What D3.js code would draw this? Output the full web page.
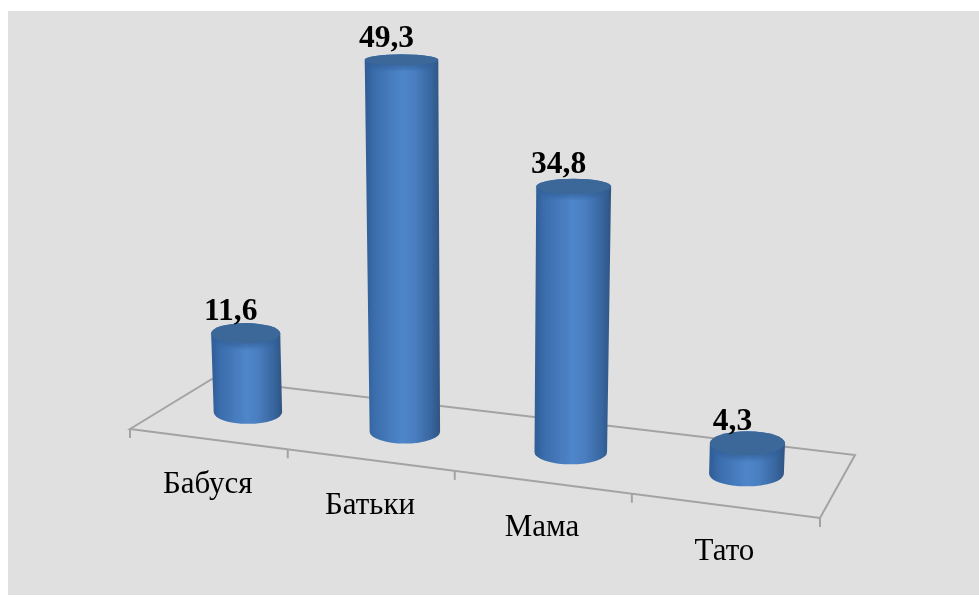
<!DOCTYPE html>
<html>
<head>
<meta charset="utf-8">
<script src="https://cdn.jsdelivr.net/npm/d3@7"></script>
<style>
  html, body { margin: 0; background: #fff; }
  text { font-family: "Liberation Serif", serif; fill: #000; }
</style>
</head>
<body>
<div id="app"></div>
<script>
const categories = ["Бабуся", "Батьки", "Мама", "Тато"];
const values = [11.6, 49.3, 34.8, 4.3];
const valueLabels = ["11,6", "49,3", "34,8", "4,3"];

const width = 979;
const height = 609;

// floor of the 3d plot as seen on screen
const frontLeft = [130, 429];
const frontRight = [820, 518];
const backRight = [855, 455];
const backLeft = [212, 379];

// unit square -> floor quad
const project = (() => {
  const [x0, y0] = frontLeft, [x1, y1] = frontRight, [x2, y2] = backRight, [x3, y3] = backLeft;
  const sx = x0 - x1 + x2 - x3, sy = y0 - y1 + y2 - y3;
  const dx1 = x1 - x2, dx2 = x3 - x2, dy1 = y1 - y2, dy2 = y3 - y2;
  const den = dx1 * dy2 - dx2 * dy1;
  const g = (sx * dy2 - dx2 * sy) / den;
  const h = (dx1 * sy - sx * dy1) / den;
  return (u, v) => {
    const w = g * u + h * v + 1;
    return [
      ((x1 - x0 + g * x1) * u + (x3 - x0 + h * x3) * v + x0) / w,
      ((y1 - y0 + g * y1) * u + (y3 - y0 + h * y3) * v + y0) / w
    ];
  };
})();

const band = d3.scaleBand().domain(categories).range([0, 1]);

// pixels of height per unit of bar width
const heightScale = d3.scalePow().exponent(1.05).domain([0, 49.3]).range([0, 5.28]);
const baseRadius = d3.scaleLinear().domain([247, 746]).range([34.2, 37.4]);
const capRy = d3.scaleLinear().domain([60, 442]).range([5.6, 12]);

// vertical lines spread out going up
const vanishX = 480;
const spread = 1.2e-4;

const svg = d3.select("#app").append("svg")
  .attr("width", width)
  .attr("height", height)
  .style("display", "block");

const defs = svg.append("defs");
const grad = defs.append("linearGradient").attr("id", "side");
[[0, "#2f5c94"], [0.12, "#3a6cab"], [0.5, "#4f86ca"], [0.65, "#4a7fc1"], [0.88, "#38669f"], [1, "#2f5481"]]
  .forEach(([o, c]) => grad.append("stop").attr("offset", o).attr("stop-color", c));
defs.append("filter").attr("id", "soft")
  .append("feGaussianBlur").attr("stdDeviation", 0.5);
defs.append("filter").attr("id", "shade")
  .append("feGaussianBlur").attr("stdDeviation", 2);

svg.append("rect")
  .attr("x", 8).attr("y", 11)
  .attr("width", width - 8).attr("height", 584)
  .attr("fill", "#e0e0e0");

const plot = svg.append("g").attr("filter", "url(#soft)");

const floorLine = d3.line();
plot.append("path")
  .attr("d", floorLine([frontLeft, frontRight, backRight, backLeft]) + "Z")
  .attr("fill", "none")
  .attr("stroke", "#a3a3a3")
  .attr("stroke-width", 2);

// ticks on the front edge
plot.selectAll(".tick")
  .data(d3.range(categories.length + 1))
  .join("line")
  .attr("class", "tick")
  .attr("x1", i => project(i / categories.length, 0)[0])
  .attr("x2", i => project(i / categories.length, 0)[0])
  .attr("y1", i => project(i / categories.length, 0)[1])
  .attr("y2", i => project(i / categories.length, 0)[1] + 9)
  .attr("stroke", "#a3a3a3")
  .attr("stroke-width", 2);

const bars = categories.map((c, i) => {
  const [bx, by] = project(band(c) + band.bandwidth() / 2, 0.5);
  const rb = baseRadius(bx);
  const h = heightScale(values[i]) * rb * 2;
  const k = 1 + h * spread;
  const tx = vanishX + (bx - vanishX) * k;
  const ty = by - h;
  return { c, bx, by, rb, rbY: capRy(by), tx, ty, rt: rb * k, rtY: capRy(ty), label: valueLabels[i] };
});

const barG = plot.selectAll(".bar").data(bars).join("g").attr("class", "bar");

barG.append("path")
  .attr("fill", "url(#side)")
  .attr("d", d => `M${d.tx - d.rt},${d.ty}
    L${d.bx - d.rb},${d.by}
    A${d.rb},${d.rbY} 0 0 0 ${d.bx + d.rb},${d.by}
    L${d.tx + d.rt},${d.ty}
    A${d.rt},${d.rtY} 0 0 0 ${d.tx - d.rt},${d.ty}Z`);

// dark band just under the cap
barG.append("ellipse")
  .attr("cx", d => d.tx)
  .attr("cy", d => d.ty + 4)
  .attr("rx", d => d.rt - 2)
  .attr("ry", d => d.rtY)
  .attr("fill", "#2f5c94")
  .attr("opacity", 0.55)
  .attr("filter", "url(#shade)");

barG.append("ellipse")
  .attr("cx", d => d.tx)
  .attr("cy", d => d.ty)
  .attr("rx", d => d.rt)
  .attr("ry", d => d.rtY)
  .attr("fill", "#3b6899");

barG.append("text")
  .attr("x", d => d.tx - 15)
  .attr("y", d => d.ty - 13)
  .attr("text-anchor", "middle")
  .style("font-size", "31.5px")
  .style("font-weight", "bold")
  .text(d => d.label);

plot.selectAll(".cat")
  .data(categories)
  .join("text")
  .attr("class", "cat")
  .attr("x", c => project(band(c) + band.bandwidth() / 2, 0)[0])
  .attr("y", c => project(band(c) + band.bandwidth() / 2, 0)[1] + 54)
  .attr("text-anchor", "middle")
  .style("font-size", "31px")
  .text(c => c);
</script>
</body>
</html>
